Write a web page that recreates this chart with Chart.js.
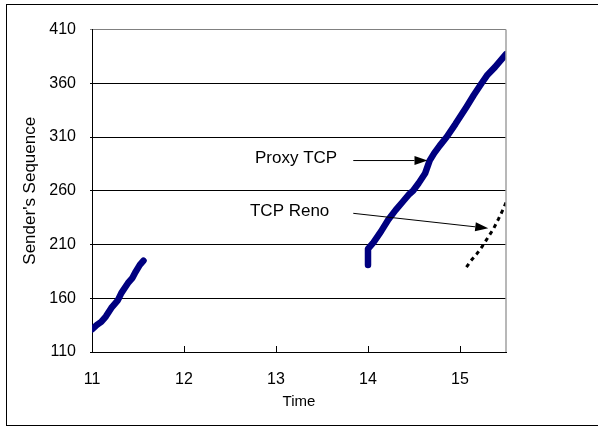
<!DOCTYPE html>
<html>
<head>
<meta charset="utf-8">
<script src="https://cdn.jsdelivr.net/npm/chart.js@4.4.0/dist/chart.umd.min.js"></script>
<style>
html,body{margin:0;padding:0;background:#fff;}
canvas{display:block;}
</style>
</head>
<body>
<canvas id="c" width="598" height="427" style="width:598px;height:427px"></canvas>
<script>
// ---- data ----
const xTicks = [11, 12, 13, 14, 15];
const yTicks = [110, 160, 210, 260, 310, 360, 410];

const proxyTime1 = [11.00, 11.05, 11.10, 11.15, 11.21, 11.25, 11.28, 11.32, 11.39, 11.44, 11.47, 11.52, 11.56];
const proxySeq1  = [131, 135, 138, 143, 151, 155, 158, 165, 174, 179, 184, 191, 195];

const proxyTime2 = [14.00, 14.00, 14.03, 14.06, 14.14, 14.22, 14.30, 14.38, 14.45, 14.49, 14.55, 14.62, 14.67, 14.72, 14.78, 14.855, 14.95, 15.07, 15.15, 15.235, 15.30, 15.38, 15.44, 15.50];
const proxySeq2  = [191, 206, 209, 212, 222, 233, 242, 250, 257, 260, 267, 276, 288, 295, 302, 310, 322, 338, 349, 360, 368, 375, 381, 387];

const renoTime = [15.07, 15.12, 15.18, 15.24, 15.30, 15.36, 15.42, 15.47, 15.50];
const renoSeq  = [189, 195, 201, 208, 216, 224, 234, 243, 249];

const xTitle = 'Time';
const yTitle = "Sender's Sequence";
const labelProxy = 'Proxy TCP';
const labelReno = 'TCP Reno';

function pts(xs, ys){ return xs.map((x,i)=>({x:x, y:ys[i]})); }

const FONT = '"Liberation Sans", Arial, sans-serif';

const framePlugin = {
  id: 'frame',
  beforeDraw(chart){
    const ctx = chart.ctx;
    ctx.save();
    ctx.fillStyle = '#fff';
    ctx.fillRect(0,0,chart.width,chart.height);
    ctx.strokeStyle = '#000';
    ctx.lineWidth = 1;
    ctx.strokeRect(6.5, 4.5, 600, 421);
    ctx.restore();
  },
  afterDraw(chart){
    const ctx = chart.ctx;
    const a = chart.chartArea;
    const xs = chart.scales.x, ys = chart.scales.y;
    ctx.save();
    // right plot border
    ctx.strokeStyle = '#a0a0a0';
    ctx.lineWidth = 1.5;
    ctx.beginPath();
    ctx.moveTo(a.right, a.top);
    ctx.lineTo(a.right, a.bottom);
    ctx.stroke();
    // inward x tick marks
    ctx.strokeStyle = '#000';
    ctx.lineWidth = 1;
    xTicks.forEach(v=>{
      const px = Math.round(xs.getPixelForValue(v)) + 0.5;
      ctx.beginPath();
      ctx.moveTo(px, a.bottom);
      ctx.lineTo(px, a.bottom - 6);
      ctx.stroke();
    });
    // annotations
    ctx.fillStyle = '#000';
    ctx.font = '17px ' + FONT;
    ctx.textBaseline = 'middle';
    ctx.textAlign = 'left';
    ctx.fillText(labelProxy, xs.getPixelForValue(12.772), ys.getPixelForValue(290.2));
    ctx.fillText(labelReno, xs.getPixelForValue(12.717), ys.getPixelForValue(240.5));
    function arrow(x1,y1,x2,y2){
      const X1 = xs.getPixelForValue(x1), Y1 = ys.getPixelForValue(y1);
      const X2 = xs.getPixelForValue(x2), Y2 = ys.getPixelForValue(y2);
      const ang = Math.atan2(Y2-Y1, X2-X1);
      const L = 13, W = 4.5;
      ctx.beginPath();
      ctx.moveTo(X1, Y1);
      ctx.lineTo(X2 - L*Math.cos(ang), Y2 - L*Math.sin(ang));
      ctx.stroke();
      ctx.beginPath();
      ctx.moveTo(X2, Y2);
      ctx.lineTo(X2 - L*Math.cos(ang) + W*Math.sin(ang), Y2 - L*Math.sin(ang) - W*Math.cos(ang));
      ctx.lineTo(X2 - L*Math.cos(ang) - W*Math.sin(ang), Y2 - L*Math.sin(ang) + W*Math.cos(ang));
      ctx.closePath();
      ctx.fill();
    }
    arrow(13.84, 288.1, 14.647, 288.1);
    arrow(13.84, 239.0, 15.307, 225.1);
    ctx.restore();
  }
};

new Chart(document.getElementById('c'), {
  type: 'line',
  data: {
    datasets: [
      { data: pts(proxyTime1, proxySeq1), borderColor: '#000080', borderWidth: 6.5, pointRadius: 0, tension: 0, fill: false, borderCapStyle: 'round', borderJoinStyle: 'round' },
      { data: pts(proxyTime2, proxySeq2), borderColor: '#000080', borderWidth: 6.5, pointRadius: 0, tension: 0, fill: false, borderCapStyle: 'round', borderJoinStyle: 'round' },
      { data: pts(renoTime, renoSeq), borderColor: '#000', borderWidth: 3, borderDash: [4,4], pointRadius: 0, tension: 0, fill: false }
    ]
  },
  options: {
    responsive: false,
    animation: false,
    devicePixelRatio: 1,
    layout: { padding: { left: 6, right: 92, top: 29.5, bottom: 0 } },
    plugins: { legend: { display: false }, tooltip: { enabled: false } },
    scales: {
      x: {
        type: 'linear', min: 11, max: 15.5,
        afterBuildTicks(s){ s.ticks = xTicks.map(v=>({value:v})); },
        afterFit(s){ s.height = 75; },
        grid: { display: false },
        border: { display: true, color: '#000', width: 1 },
        ticks: { color: '#000', font: { family: FONT, size: 16 }, padding: 10, maxRotation: 0 },
        title: { display: true, text: xTitle, color: '#000', font: { family: FONT, size: 15 }, padding: { top: 0, bottom: 16 } }
      },
      y: {
        type: 'linear', min: 110, max: 410,
        afterBuildTicks(s){ s.ticks = yTicks.map(v=>({value:v})); },
        afterFit(s){ s.width = 86; },
        grid: { color: (c)=> (c.tick && c.tick.value === 410) ? '#808080' : '#000', lineWidth: 1, tickLength: 2 },
        border: { display: true, color: '#000', width: 1 },
        ticks: { color: '#000', font: { family: FONT, size: 16 }, padding: 14 },
        title: { display: true, text: yTitle, color: '#000', font: { family: FONT, size: 17 }, padding: { top: 14, bottom: 0 } }
      }
    }
  },
  plugins: [framePlugin]
});
</script>
</body>
</html>
